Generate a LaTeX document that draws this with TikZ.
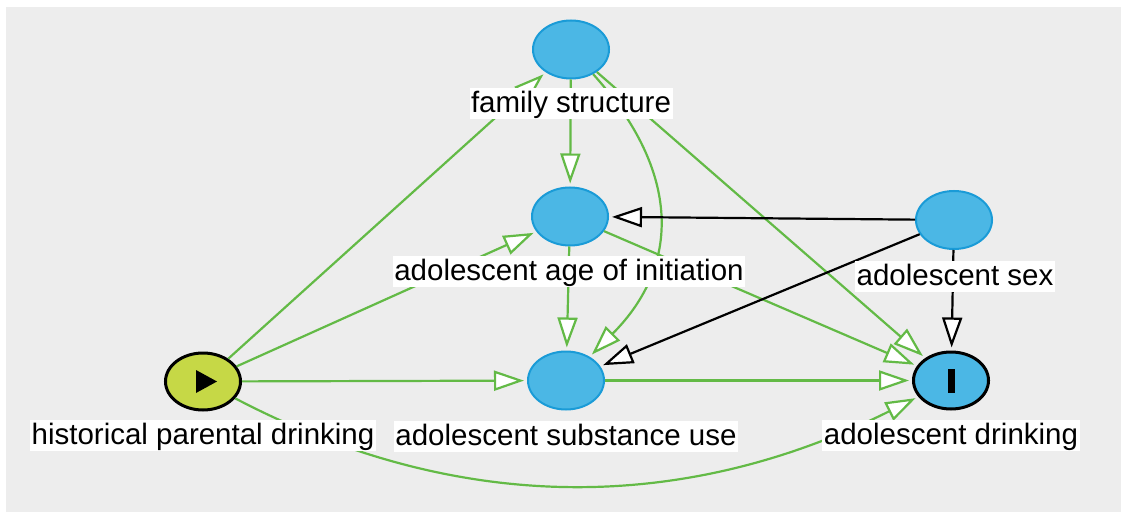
\documentclass[tikz,border=0pt]{standalone}
\usepackage{fontspec}
\setmainfont{Liberation Sans}
\usetikzlibrary{arrows.meta,shapes.geometric}
\definecolor{canvas}{HTML}{EDEDED}
\definecolor{varfill}{HTML}{4BB7E5}
\definecolor{varline}{HTML}{1A9BD7}
\definecolor{expofill}{HTML}{C6D846}
\definecolor{causalgreen}{HTML}{63BA46}
\begin{document}
\begin{tikzpicture}[x=1pt,y=-1pt,
  var/.style={ellipse, draw=varline, fill=varfill, line width=2pt,
    minimum width=76pt, minimum height=58pt, inner sep=0pt},
  exposure/.style={var, draw=black, fill=expofill, line width=3pt,
    minimum width=75pt, minimum height=57pt},
  outcome/.style={var, draw=black, line width=3pt,
    minimum width=75pt, minimum height=57pt},
  lbl/.style={fill=white, inner xsep=1.5pt, inner ysep=1.5pt,
    text height=23pt, text depth=5pt, font=\fontsize{29.5}{31}\selectfont},
  cedge/.style={draw=causalgreen, line width=2.2pt,
    -{Triangle[length=30pt,width=20pt,fill=white]}, shorten >=3pt},
  bedge/.style={cedge, draw=black},
]
\useasboundingbox (0,0) rectangle (1121,513);
\fill[canvas] (6,7) rectangle (1121,512);

% variables
\node[var] (fam) at (571,49.5) {};
\node[var] (age) at (570,216.5) {};
\node[var] (sex) at (954,220) {};
\node[exposure] (hpd) at (203,381.5) {};
\node[var] (sub) at (566,380.5) {};
\node[outcome] (drk) at (951,380.5) {};

% exposure and outcome markers
\fill (196,370) -- (196,393) -- (217,381.5) -- cycle;
\fill (947.5,369) rectangle (954.5,393);

% causal paths
\draw[cedge] (hpd) -- (fam);
\draw[cedge] (hpd) -- (age);
\draw[cedge] (hpd) -- (sub);
\draw[cedge] (hpd) .. controls (456,514) and (681,515) .. (drk);
\draw[cedge] (fam) -- (age);
\draw[cedge] (fam) .. controls (681,172) and (681,265) .. (sub);
\draw[cedge] (fam) -- (drk);
\draw[cedge] (age) -- (sub);
\draw[cedge] (age) -- (drk);
\draw[cedge] (sub) -- (drk);

% biasing paths
\draw[bedge] (sex) -- (age);
\draw[bedge] (sex) -- (sub);
\draw[bedge] (sex) -- (drk);

% labels
\node[lbl] (lfam) at (571,104) {family structure};
\node[lbl] (lage) at (569,271) {adolescent age of initiation};
\node[lbl] (lsex) at (955,276) {adolescent sex};
\node[lbl] (lhpd) at (203,435.5) {historical parental drinking};
\node[lbl] (lsub) at (566,436) {adolescent substance use};
\node[lbl] (ldrk) at (951,435.5) {adolescent drinking};
\end{tikzpicture}
\end{document}
